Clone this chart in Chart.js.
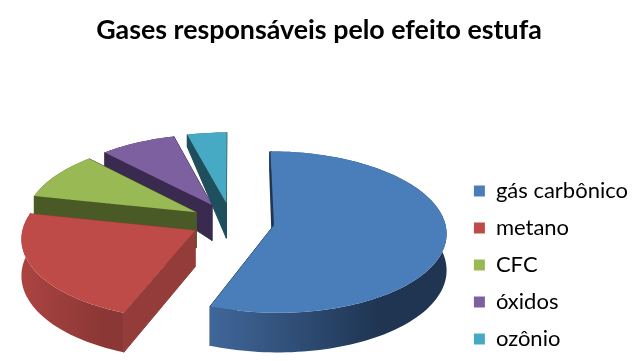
<!DOCTYPE html>
<html>
<head>
<meta charset="utf-8">
<style>
  html, body { margin: 0; padding: 0; background: #fff; }
  canvas { display: block; }
</style>
<script src="https://cdn.jsdelivr.net/npm/chart.js@4"></script>
</head>
<body>
<canvas id="myChart" width="642" height="361"></canvas>
<script>
const categories = ['gás carbônico', 'metano', 'CFC', 'óxidos', 'ozônio'];
const values = [55.9, 22.5, 9.6, 7.9, 4.1];
const explode = [43, 41, 41, 41, 41];
const topColors = ['#4A7EBB', '#BE4B48', '#98B954', '#7D60A0', '#46AAC5'];
const wallColors = ['#1F3552', '#943C39', '#4A5A26', '#3A2A50', '#1F4F5C'];
const rimLeft = ['#40679A', '#AB4441', '#4A5A26', '#3A2A50', '#1F4F5C'];
const rimRight = ['#1F3552', '#8A3735', '#4A5A26', '#3A2A50', '#1F4F5C'];

// fake 3D view, Chart.js has no 3D pie so the arcs get projected by hand
const view = { cx: 231.5, cy: 221.5, flat: 0.465, persp: 0.0005, radius: 171, depth: 36 };

function project(u, v, z) {
    const k = 1 / (1 - view.persp * v);
    // the walls get thinner towards the back, like in the original
    let taper = 1;
    if (v < -40) taper = Math.max(0.33, 1 - (-v - 40) * 0.0038);
    return [view.cx + u * k, view.cy + view.flat * v * k + z * view.depth * k * taper];
}

function tracePath(ctx, pts) {
    ctx.beginPath();
    pts.forEach((p, i) => i ? ctx.lineTo(p[0], p[1]) : ctx.moveTo(p[0], p[1]));
    ctx.closePath();
}

const pie3d = {
    id: 'pie3d',
    beforeDatasetDraw(chart, args) {
        const ctx = chart.ctx;
        const arcs = args.meta.data;
        // back to front so the front slices cover the others
        [4, 3, 2, 1, 0].forEach(i => {
            const el = arcs[i];
            const mid = (el.startAngle + el.endAngle) / 2;
            const ax = Math.cos(mid) * explode[i];
            const ay = Math.sin(mid) * explode[i];
            const rimAngles = [];
            const steps = Math.ceil((el.endAngle - el.startAngle) / 0.03);
            for (let s = 0; s <= steps; s++) {
                rimAngles.push(el.startAngle + (el.endAngle - el.startAngle) * s / steps);
            }
            const world = rimAngles.map(a => [ax + Math.cos(a) * view.radius, ay + Math.sin(a) * view.radius]);
            const top = world.map(w => project(w[0], w[1], 0));
            const bottom = world.map(w => project(w[0], w[1], 1));
            const apexTop = project(ax, ay, 0);
            const apexBottom = project(ax, ay, 1);

            // side walls
            ctx.fillStyle = wallColors[i];
            ctx.strokeStyle = wallColors[i];
            ctx.lineWidth = i === 0 ? 3 : 1;
            tracePath(ctx, [apexTop, top[0], bottom[0], apexBottom]);
            ctx.fill();
            ctx.stroke();
            tracePath(ctx, [apexTop, top[top.length - 1], bottom[bottom.length - 1], apexBottom]);
            ctx.fill();
            ctx.lineWidth = 1;
            ctx.stroke();

            // outer rim
            const front = top.filter(p => p[1] >= view.cy).map(p => p[0]);
            const xs = front.length > 1 ? front : top.map(p => p[0]);
            const grad = ctx.createLinearGradient(Math.min(...xs), 0, Math.max(...xs) * 0.85, 0);
            grad.addColorStop(0, rimLeft[i]);
            grad.addColorStop(1, rimRight[i]);
            ctx.fillStyle = grad;
            tracePath(ctx, top.concat(bottom.slice().reverse()));
            ctx.fill();

            // top face
            ctx.fillStyle = topColors[i];
            tracePath(ctx, [apexTop].concat(top));
            ctx.fill();
        });
        return false;
    }
};

new Chart(document.getElementById('myChart').getContext('2d'), {
    type: 'pie',
    data: {
        labels: categories,
        datasets: [{
            data: values,
            backgroundColor: topColors,
            borderWidth: 0,
            offset: explode
        }]
    },
    plugins: [pie3d],
    options: {
        responsive: false,
        animation: false,
        layout: { padding: { right: 4, bottom: -4 } },
        plugins: {
            title: {
                display: true,
                text: 'Gases responsáveis pelo efeito estufa',
                color: '#000',
                font: { family: 'Lato', size: 26.8, weight: 'bold' },
                padding: { top: 14, bottom: 10 }
            },
            legend: {
                position: 'right',
                align: 'end',
                labels: {
                    color: '#000',
                    boxWidth: 11,
                    boxHeight: 11,
                    padding: 15,
                    font: { family: 'Lato', size: 22 }
                }
            },
            tooltip: { enabled: false }
        }
    }
});
</script>
</body>
</html>
